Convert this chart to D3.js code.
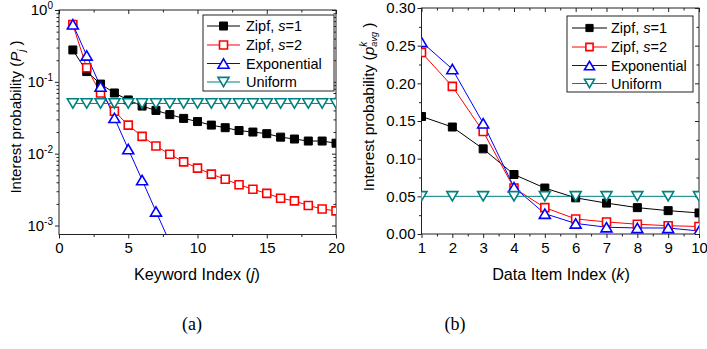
<!DOCTYPE html>
<html>
<head>
<meta charset="utf-8">
<script src="https://cdn.jsdelivr.net/npm/d3@7"></script>
<style>
  body { margin: 0; background: #fff; }
  text { font-family: "Liberation Sans", Arial, sans-serif; fill: #000; }
</style>
</head>
<body>
<div id="plot"></div>
<script>
var svgWidth = 707;
var svgHeight = 349;

// ---- panel (a): keyword index, log scale
var keywordIndex = [1, 2, 3, 4, 5, 6, 7, 8, 9, 10, 11, 12, 13, 14, 15, 16, 17, 18, 19, 20];
var zipf1A = [0.278, 0.139, 0.093, 0.070, 0.056, 0.046, 0.040, 0.035, 0.031, 0.028,
              0.025, 0.023, 0.021, 0.020, 0.019, 0.017, 0.016, 0.015, 0.015, 0.014];
var zipf2A = [0.627, 0.157, 0.070, 0.039, 0.025, 0.0174, 0.0128, 0.0098, 0.0077, 0.0063,
              0.0052, 0.0044, 0.0037, 0.0032, 0.0028, 0.0024, 0.0022, 0.0019, 0.0017, 0.0016];
var expA = [0.632, 0.233, 0.086, 0.0315, 0.0116, 0.0043, 0.00157, 0.00058];
var uniA = [0.05, 0.05, 0.05, 0.05, 0.05, 0.05, 0.05, 0.05, 0.05, 0.05,
            0.05, 0.05, 0.05, 0.05, 0.05, 0.05, 0.05, 0.05, 0.05, 0.05];
var xTicksA = [0, 5, 10, 15, 20];
var xMinorA = [2.5, 7.5, 12.5, 17.5];
var yTicksA = [1, 0.1, 0.01, 0.001];
var yExpA = ["0", "-1", "-2", "-3"];
var yMinorA = [0.002, 0.003, 0.004, 0.005, 0.006, 0.007, 0.008, 0.009,
               0.02, 0.03, 0.04, 0.05, 0.06, 0.07, 0.08, 0.09,
               0.2, 0.3, 0.4, 0.5, 0.6, 0.7, 0.8, 0.9];

// ---- panel (b): data item index, linear scale
var itemIndex = [1, 2, 3, 4, 5, 6, 7, 8, 9, 10];
var zipf1B = [0.156, 0.142, 0.113, 0.079, 0.061, 0.048, 0.041, 0.035, 0.031, 0.028];
var zipf2B = [0.241, 0.196, 0.136, 0.061, 0.035, 0.020, 0.016, 0.013, 0.011, 0.010];
var expB = [0.255, 0.219, 0.147, 0.062, 0.027, 0.014, 0.009, 0.008, 0.008, 0.004];
var uniB = [0.05, 0.05, 0.05, 0.05, 0.05, 0.05, 0.05, 0.05, 0.05, 0.05];
var xTicksB = [1, 2, 3, 4, 5, 6, 7, 8, 9, 10];
var xMinorB = [1.5, 2.5, 3.5, 4.5, 5.5, 6.5, 7.5, 8.5, 9.5];
var yTicksB = [0, 0.05, 0.10, 0.15, 0.20, 0.25, 0.30];
var yMinorB = [0.025, 0.075, 0.125, 0.175, 0.225, 0.275];

var seriesNames = ["Zipf, s=1", "Zipf, s=2", "Exponential", "Uniform"];

var styles = [
  { color: "#000000", shape: "square", fill: "#000000" },
  { color: "#ff0000", shape: "square", fill: "#ffffff" },
  { color: "#0000ff", shape: "up", fill: "#ffffff" },
  { color: "#008080", shape: "down", fill: "#ffffff" }
];

var svg = d3.select("#plot")
  .append("svg")
  .attr("width", svgWidth)
  .attr("height", svgHeight);

var defs = svg.append("defs");

function markerPath(shape, s) {
  var h = s / 2;
  if (shape === "square") return `M${-h * 0.8},${-h * 0.8}H${h * 0.8}V${h * 0.8}H${-h * 0.8}Z`;
  if (shape === "up") return `M${-h},${h * 0.85}L${h},${h * 0.85}L0,${-h * 0.85}Z`;
  return `M${-h},${-h * 0.85}L${h},${-h * 0.85}L0,${h * 0.85}Z`;
}

function drawMarkers(g, pts, st, size) {
  g.selectAll(null)
    .data(pts)
    .enter()
    .append("path")
    .attr("transform", d => `translate(${d[0]},${d[1]})`)
    .attr("d", markerPath(st.shape, size))
    .attr("fill", st.fill)
    .attr("stroke", st.color)
    .attr("stroke-width", st.fill === "#ffffff" ? 1.6 : 1);
}

function styleAxis(g) {
  g.select(".domain").remove();
  g.selectAll(".tick line").attr("stroke", "#222").attr("stroke-width", 1);
  g.selectAll(".tick text").attr("font-size", 15).attr("font-family", "Liberation Sans, Arial, sans-serif");
}

function drawPanel(p) {
  var x = p.x, y = p.y;
  var x0 = x.range()[0], x1 = x.range()[1];
  var y0 = y.range()[1], y1 = y.range()[0];

  defs.append("clipPath").attr("id", "clip-" + p.id)
    .append("rect")
    .attr("x", x0).attr("y", y0)
    .attr("width", x1 - x0).attr("height", y1 - y0);

  var chartGroup = svg.append("g");

  // bottom axis (ticks out)
  chartGroup.append("g")
    .attr("transform", `translate(0, ${y1})`)
    .call(d3.axisBottom(x).tickValues(p.xTicks).tickSize(4).tickPadding(4).tickFormat(d3.format("d")))
    .call(styleAxis);
  chartGroup.append("g")
    .attr("transform", `translate(0, ${y1})`)
    .call(d3.axisBottom(x).tickValues(p.xMinor).tickSize(2.5).tickFormat(""))
    .call(styleAxis);

  // top axis mirror (ticks in)
  chartGroup.append("g")
    .attr("transform", `translate(0, ${y0})`)
    .call(d3.axisTop(x).tickValues(p.xTicks).tickSize(-4).tickFormat(""))
    .call(styleAxis);
  chartGroup.append("g")
    .attr("transform", `translate(0, ${y0})`)
    .call(d3.axisTop(x).tickValues(p.xMinor).tickSize(-2.5).tickFormat(""))
    .call(styleAxis);

  // left axis (ticks out)
  var left = chartGroup.append("g")
    .attr("transform", `translate(${x0}, 0)`)
    .call(d3.axisLeft(y).tickValues(p.yTicks).tickSize(4).tickPadding(2).tickFormat(p.yFormat || ""))
    .call(styleAxis);
  chartGroup.append("g")
    .attr("transform", `translate(${x0}, 0)`)
    .call(d3.axisLeft(y).tickValues(p.yMinor).tickSize(2.5).tickFormat(""))
    .call(styleAxis);

  if (p.yExp) {
    left.selectAll(".tick text").each(function (d, i) {
      var t = d3.select(this);
      t.text(null);
      t.append("tspan").text("10");
      t.append("tspan").attr("dy", -6).attr("font-size", 10).text(p.yExp[i]);
    });
  }

  // right axis mirror (ticks in)
  chartGroup.append("g")
    .attr("transform", `translate(${x1}, 0)`)
    .call(d3.axisRight(y).tickValues(p.yTicks).tickSize(-4).tickFormat(""))
    .call(styleAxis);
  chartGroup.append("g")
    .attr("transform", `translate(${x1}, 0)`)
    .call(d3.axisRight(y).tickValues(p.yMinor).tickSize(-2.5).tickFormat(""))
    .call(styleAxis);

  // frame
  chartGroup.append("rect")
    .attr("x", x0).attr("y", y0)
    .attr("width", x1 - x0).attr("height", y1 - y0)
    .attr("fill", "none")
    .attr("stroke", "#222")
    .attr("stroke-width", 1);

  // series
  var plotArea = chartGroup.append("g").attr("clip-path", `url(#clip-${p.id})`);
  p.series.forEach(function (vals, si) {
    var st = styles[si];
    var pts = vals.map((v, i) => [x(p.index[i]), y(v)]);
    plotArea.append("path")
      .attr("d", d3.line()(pts))
      .attr("fill", "none")
      .attr("stroke", st.color)
      .attr("stroke-width", 1);
  });
  p.series.forEach(function (vals, si) {
    var st = styles[si];
    var pts = vals.map((v, i) => [x(p.index[i]), y(v)]);
    drawMarkers(plotArea, pts, st, st.shape === "square" ? 10 : 11);
  });

  // legend
  var lg = p.legend;
  chartGroup.append("rect")
    .attr("x", lg.x).attr("y", lg.y)
    .attr("width", lg.w).attr("height", lg.h)
    .attr("fill", "#fff")
    .attr("stroke", "#222")
    .attr("stroke-width", 1);
  seriesNames.forEach(function (name, i) {
    var st = styles[i];
    var ry = lg.rows[i];
    chartGroup.append("line")
      .attr("x1", lg.lineX0).attr("x2", lg.lineX1)
      .attr("y1", ry).attr("y2", ry)
      .attr("stroke", st.color).attr("stroke-width", 1);
    drawMarkers(chartGroup, [[(lg.lineX0 + lg.lineX1) / 2, ry]], st, st.shape === "square" ? lg.sq : lg.tri);
    var t = chartGroup.append("text")
      .attr("x", lg.textX).attr("y", ry)
      .attr("dy", "0.36em")
      .attr("font-size", lg.font);
    if (name.indexOf("s=") >= 0) {
      t.append("tspan").text("Zipf, ");
      t.append("tspan").attr("font-style", "italic").text("s");
      t.append("tspan").text(name.slice(name.indexOf("=")));
    } else {
      t.text(name);
    }
  });
}

drawPanel({
  id: "a",
  x: d3.scaleLinear().domain([0, 20]).range([59, 336]),
  y: d3.scaleLog().domain([7.5e-4, 1]).range([234.5, 10]),
  xTicks: xTicksA, xMinor: xMinorA,
  yTicks: yTicksA, yMinor: yMinorA, yExp: yExpA,
  index: keywordIndex,
  series: [zipf1A, zipf2A, expA, uniA],
  legend: { x: 203, y: 15, w: 131, h: 76, rows: [26, 45, 63.5, 82],
            lineX0: 207, lineX1: 240, textX: 246, font: 14.5, sq: 10, tri: 11 }
});

drawPanel({
  id: "b",
  x: d3.scaleLinear().domain([1, 10]).range([421.5, 699]),
  y: d3.scaleLinear().domain([0, 0.30]).range([234, 8]),
  xTicks: xTicksB, xMinor: xMinorB,
  yTicks: yTicksB, yMinor: yMinorB, yFormat: d3.format(".2f"),
  index: itemIndex,
  series: [zipf1B, zipf2B, expB, uniB],
  legend: { x: 567, y: 16, w: 126, h: 76, rows: [28, 47, 65.5, 83.5],
            lineX0: 572, lineX1: 607, textX: 611, font: 14.5, sq: 9, tri: 10 }
});

// axis titles
var tA = svg.append("text")
  .attr("text-anchor", "middle")
  .attr("transform", "translate(21, 117) rotate(-90)")
  .attr("font-size", 15);
tA.append("tspan").text("Interest probability (");
tA.append("tspan").attr("font-style", "italic").text("P");
tA.append("tspan").attr("dy", 4).attr("font-size", 10).attr("font-style", "italic").text("j");
tA.append("tspan").attr("dy", -4).text(" )");

var tB = svg.append("text")
  .attr("text-anchor", "middle")
  .attr("transform", "translate(374, 107) rotate(-90)")
  .attr("font-size", 15.5);
tB.append("tspan").text("Interest probability (");
tB.append("tspan").attr("font-style", "italic").text("p");
tB.append("tspan").attr("dy", -7).attr("font-size", 10).attr("font-style", "italic").text("k");
tB.append("tspan").attr("dy", 10).attr("dx", -5).attr("font-size", 9).attr("font-style", "italic").text("avg");
tB.append("tspan").attr("dy", -3).text(" )");

var xtA = svg.append("text")
  .attr("text-anchor", "middle")
  .attr("x", 197).attr("y", 280)
  .attr("font-size", 16.2);
xtA.append("tspan").text("Keyword Index (");
xtA.append("tspan").attr("font-style", "italic").text("j");
xtA.append("tspan").text(")");

var xtB = svg.append("text")
  .attr("text-anchor", "middle")
  .attr("x", 561).attr("y", 280)
  .attr("font-size", 16.2);
xtB.append("tspan").text("Data Item Index (");
xtB.append("tspan").attr("font-style", "italic").text("k");
xtB.append("tspan").text(")");

// captions
svg.append("text")
  .attr("x", 192).attr("y", 330)
  .attr("text-anchor", "middle")
  .attr("font-size", 18)
  .style("font-family", "Liberation Serif, serif")
  .text("(a)");
svg.append("text")
  .attr("x", 455).attr("y", 330)
  .attr("text-anchor", "middle")
  .attr("font-size", 18)
  .style("font-family", "Liberation Serif, serif")
  .text("(b)");
</script>
</body>
</html>
